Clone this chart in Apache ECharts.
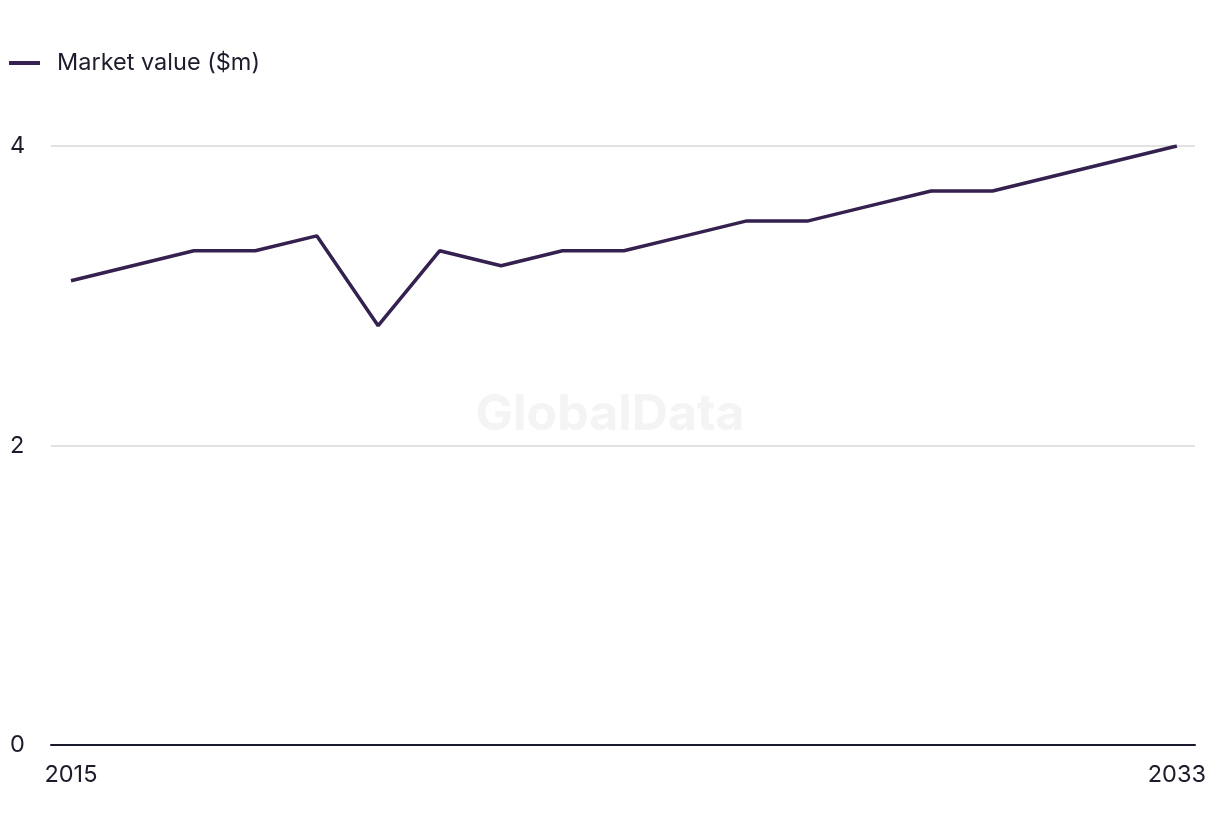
<!DOCTYPE html>
<html>
<head>
<meta charset="utf-8">
<script src="https://cdn.jsdelivr.net/npm/echarts@6/dist/echarts.min.js"></script>
<style>html,body{margin:0;padding:0;background:#fff;}#c{width:1220px;height:836px;}</style>
</head>
<body>
<div id="c"></div>
<script>
const years = [2015,2016,2017,2018,2019,2020,2021,2022,2023,2024,2025,2026,2027,2028,2029,2030,2031,2032,2033];
const marketValue = [3.1,3.2,3.3,3.3,3.4,2.8,3.3,3.2,3.3,3.3,3.4,3.5,3.5,3.6,3.7,3.7,3.8,3.9,4.0];
const xTickLabels = [2015, 2033];
const yTicks = [0, 2, 4];
const seriesName = 'Market value ($m)';

const chart = echarts.init(document.getElementById('c'), null, {renderer:'canvas'});
const font = 'Inter, "Noto Sans", sans-serif';
chart.setOption({
  animation: false,
  backgroundColor: '#ffffff',
  graphic: [{
    type: 'text', left: 'center', top: 390, z: 0,
    style: { text: 'GlobalData', font: 'bold 50px ' + font, fill: '#f4f4f4' }
  }],
  legend: {
    left: 4, top: 46, itemWidth: 31, itemHeight: 4, itemGap: 20,
    icon: 'rect',
    textStyle: { fontFamily: font, fontSize: 23.5, color: '#1c1c2c', padding: [0,0,0,12] },
    data: [seriesName]
  },
  grid: { left: 51, right: 25, top: 146, bottom: 91, containLabel: false },
  xAxis: {
    type: 'value', min: 2014.675, max: 2033.295,
    axisLine: { show: true, lineStyle: { color: '#1a1a2e', width: 2 } },
    axisTick: { show: false },
    splitLine: { show: false },
    axisLabel: { customValues: xTickLabels, fontFamily: font, fontSize: 23.5, color: '#1c1c2c', margin: 18, formatter: v => String(v) }
  },
  yAxis: {
    type: 'value', min: 0, max: 4, interval: 2,
    axisLine: { show: false }, axisTick: { show: false },
    splitLine: { lineStyle: { color: '#d9d9d9', width: 1.5 } },
    axisLabel: { customValues: yTicks, fontFamily: font, fontSize: 23.5, color: '#1c1c2c', align: 'left', margin: 41 }
  },
  series: [{
    name: seriesName, type: 'line', showSymbol: false, symbol: 'none',
    lineStyle: { color: '#35214f', width: 3.5 },
    itemStyle: { color: '#35214f' },
    data: years.map((y, i) => [y, marketValue[i]])
  }]
});
</script>
</body>
</html>
